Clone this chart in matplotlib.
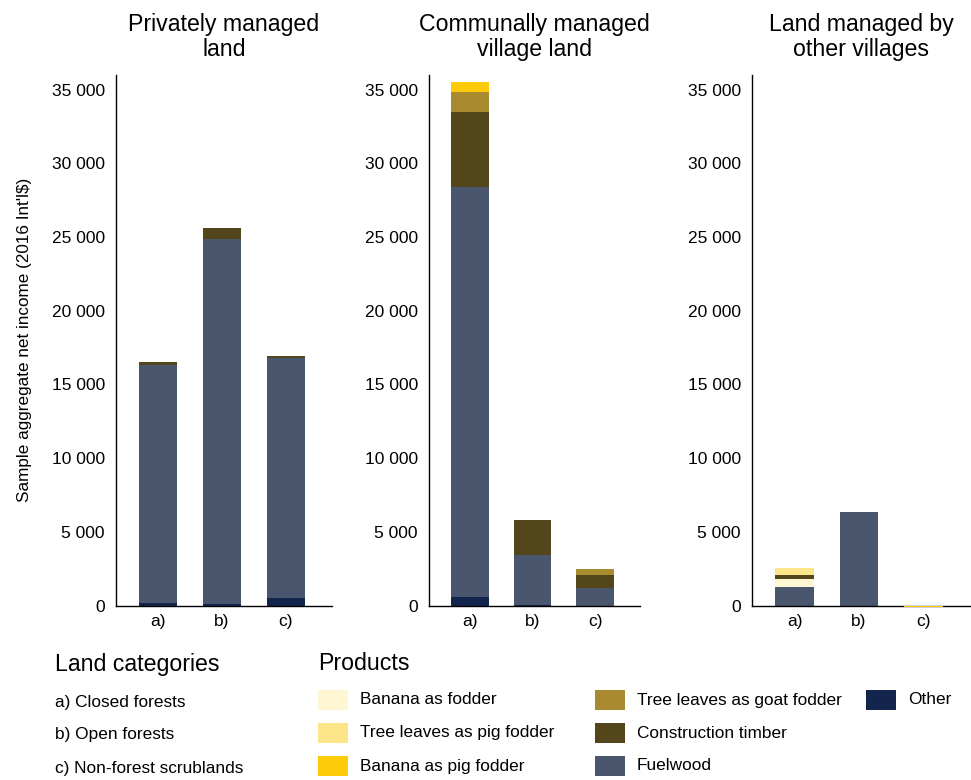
import matplotlib
matplotlib.use("Agg")
import matplotlib.pyplot as plt
import matplotlib.patches as mpatches
import numpy as np

plt.rcParams["font.family"] = ["Liberation Sans", "DejaVu Sans"]

CATEGORIES = ["a)", "b)", "c)"]
PANEL_TITLES = ["Privately managed\nland", "Communally managed\nvillage land", "Land managed by\nother villages"]

# stacking order bottom -> top
PRODUCTS = ["Other", "Fuelwood", "Banana as fodder", "Construction timber",
            "Tree leaves as goat fodder", "Banana as pig fodder", "Tree leaves as pig fodder"]
COLORS = {
    "Banana as fodder": "#fff7d4",
    "Tree leaves as pig fodder": "#fde58a",
    "Banana as pig fodder": "#fecb0a",
    "Tree leaves as goat fodder": "#a88a2f",
    "Construction timber": "#54461b",
    "Fuelwood": "#4a566d",
    "Other": "#13244d",
}

# values per panel (a, b, c), 2016 Int'l$
private = {
    "Other": [150, 80, 500],
    "Fuelwood": [16150, 24820, 16280],
    "Banana as fodder": [0, 0, 0],
    "Construction timber": [200, 700, 120],
    "Tree leaves as goat fodder": [0, 0, 0],
    "Banana as pig fodder": [0, 0, 0],
    "Tree leaves as pig fodder": [0, 0, 0],
}
communal = {
    "Other": [600, 50, 0],
    "Fuelwood": [27800, 3380, 1190],
    "Banana as fodder": [0, 0, 0],
    "Construction timber": [5100, 2370, 880],
    "Tree leaves as goat fodder": [1360, 0, 410],
    "Banana as pig fodder": [680, 0, 0],
    "Tree leaves as pig fodder": [0, 0, 0],
}
other_villages = {
    "Other": [0, 0, 0],
    "Fuelwood": [1260, 6350, 0],
    "Banana as fodder": [540, 0, 0],
    "Construction timber": [270, 0, 0],
    "Tree leaves as goat fodder": [0, 0, 0],
    "Banana as pig fodder": [0, 0, -130],
    "Tree leaves as pig fodder": [480, 0, 0],
}
PANELS = [private, communal, other_villages]

LAND_LEGEND = ["a) Closed forests", "b) Open forests", "c) Non-forest scrublands"]
YTICKS = [0, 5000, 10000, 15000, 20000, 25000, 30000, 35000]

fig = plt.figure(figsize=(9.71, 7.8), dpi=100)
lefts = [116, 429, 752]
widths = [216, 211, 218]
x = np.arange(1, 4)

for i, data in enumerate(PANELS):
    ax = fig.add_axes([lefts[i] / 971, 1 - 605.5 / 780, widths[i] / 971, 530.5 / 780])
    pos = np.zeros(3)
    neg = np.zeros(3)
    for prod in PRODUCTS:
        vals = np.array(data[prod], dtype=float)
        base = np.where(vals >= 0, pos, neg)
        bars = ax.bar(x, vals, 0.6, bottom=base, color=COLORS[prod], linewidth=0, zorder=1)
        for b, v in zip(bars, vals):
            if v < 0:
                # small negative income drawn across the baseline
                b.set_clip_on(False)
                b.set_zorder(3)
        pos += np.clip(vals, 0, None)
        neg += np.clip(vals, None, 0)
    ax.set_xlim(0.34, 3.72)
    ax.set_ylim(0, 36000)
    ax.set_yticks(YTICKS)
    ax.set_yticklabels([f"{v:,}".replace(",", " ") for v in YTICKS], fontsize=12.5)
    ax.set_xticks(x)
    ax.set_xticklabels(CATEGORIES, fontsize=12.5)
    ax.tick_params(length=0, pad=8)
    ax.tick_params(axis="x", pad=6)
    ax.spines["top"].set_visible(False)
    ax.spines["right"].set_visible(False)
    ax.spines["left"].set_linewidth(1.0)
    ax.spines["bottom"].set_linewidth(1.0)
    ax.set_title(PANEL_TITLES[i], fontsize=16.7, pad=14, linespacing=1.1)
    if i == 0:
        ax.set_ylabel("Sample aggregate net income (2016 Int'l$)", fontsize=12.3, labelpad=14)

# land categories legend
fig.text(55 / 971, 1 - 664 / 780, "Land categories", fontsize=16.7, va="center")
for j, lab in enumerate(LAND_LEGEND):
    fig.text(55 / 971, 1 - (702 + 33 * j) / 780, lab, fontsize=12.4, va="center")

# products legend
fig.text(318 / 971, 1 - 664 / 780, "Products", fontsize=16.7, va="center")
LEGEND_ORDER = ["Banana as fodder", "Tree leaves as pig fodder", "Banana as pig fodder",
                "Tree leaves as goat fodder", "Construction timber", "Fuelwood", "Other"]
col_x = [318, 595, 866]
for k, prod in enumerate(LEGEND_ORDER):
    col, row = divmod(k, 3)
    px = col_x[col]
    py = 700 + 33 * row
    fig.patches.append(mpatches.Rectangle((px / 971, 1 - (py + 10) / 780), 30 / 971, 20 / 780,
                                          transform=fig.transFigure, facecolor=COLORS[prod],
                                          edgecolor="none"))
    fig.text((px + 42) / 971, 1 - py / 780, prod, fontsize=12.4, va="center")

fig.savefig("out.png", dpi=100, facecolor="white")
